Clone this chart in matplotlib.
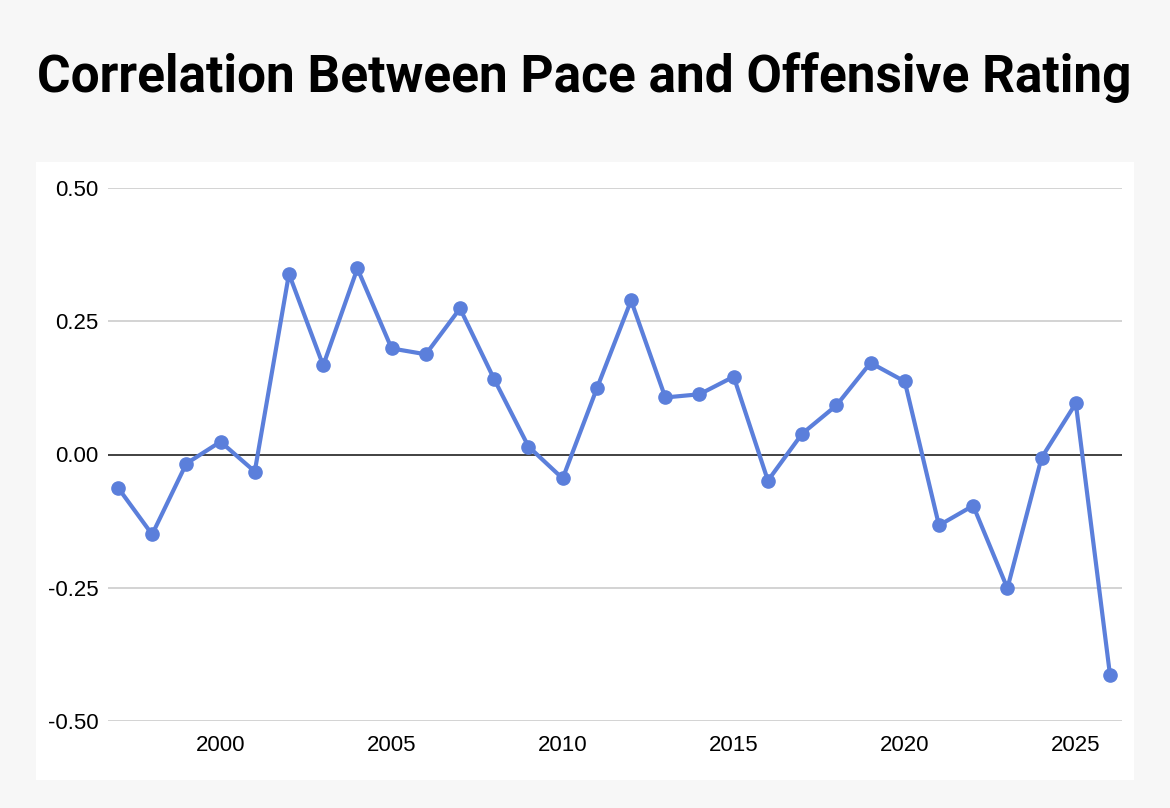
import matplotlib
matplotlib.use("Agg")
import matplotlib.pyplot as plt
from matplotlib.patches import Rectangle

years = list(range(1997, 2027))
corr = [-0.062, -0.150, -0.017, 0.024, -0.032, 0.339, 0.167, 0.349, 0.199, 0.188,
        0.274, 0.141, 0.015, -0.045, 0.124, 0.289, 0.107, 0.113, 0.146, -0.049,
        0.039, 0.092, 0.172, 0.137, -0.133, -0.096, -0.251, -0.006, 0.096, -0.414]
yticks = [-0.50, -0.25, 0.00, 0.25, 0.50]
xticks = [2000, 2005, 2010, 2015, 2020, 2025]
title = "Correlation Between Pace and Offensive Rating"

W, H = 1170, 808
fig = plt.figure(figsize=(W / 100, H / 100), dpi=100)
fig.patch.set_facecolor("#f7f7f7")

# white chart panel
fig.patches.append(Rectangle((36 / W, 1 - 780 / H), (1134 - 36) / W, (780 - 162) / H,
                             transform=fig.transFigure, facecolor="white",
                             edgecolor="none", zorder=-5))

fig.text(584 / W, 1 - 78 / H, title, ha="center", va="center",
         fontsize=37, fontweight="bold", family="Roboto", color="black")

ax = fig.add_axes([108 / W, 1 - 721 / H, (1122 - 108) / W, (721 - 188) / H])
ax.set_zorder(2)
ax.set_facecolor("none")
ax.set_xlim(1996.71, 2026.35)
ax.set_ylim(-0.5, 0.5)
for s in ax.spines.values():
    s.set_visible(False)
ax.set_yticks(yticks)
ax.set_yticklabels([f"{v:.2f}" for v in yticks], family="Liberation Sans", fontsize=16)
ax.set_xticks(xticks)
ax.set_xticklabels([str(v) for v in xticks], family="Liberation Sans", fontsize=16)
ax.tick_params(length=0, pad=7, colors="black")
ax.tick_params(axis="x", pad=10)
for v in yticks:
    if v == 0:
        ax.axhline(v, color="#333333", lw=1.3, zorder=1)
    else:
        ax.axhline(v, color="#cccccc", lw=1.2, zorder=1)

ax.plot(years, corr, color="#5b7fdb", lw=3, marker="o", markersize=9.5, zorder=3,
        clip_on=False)

fig.savefig("out.png", dpi=100, facecolor=fig.get_facecolor())
